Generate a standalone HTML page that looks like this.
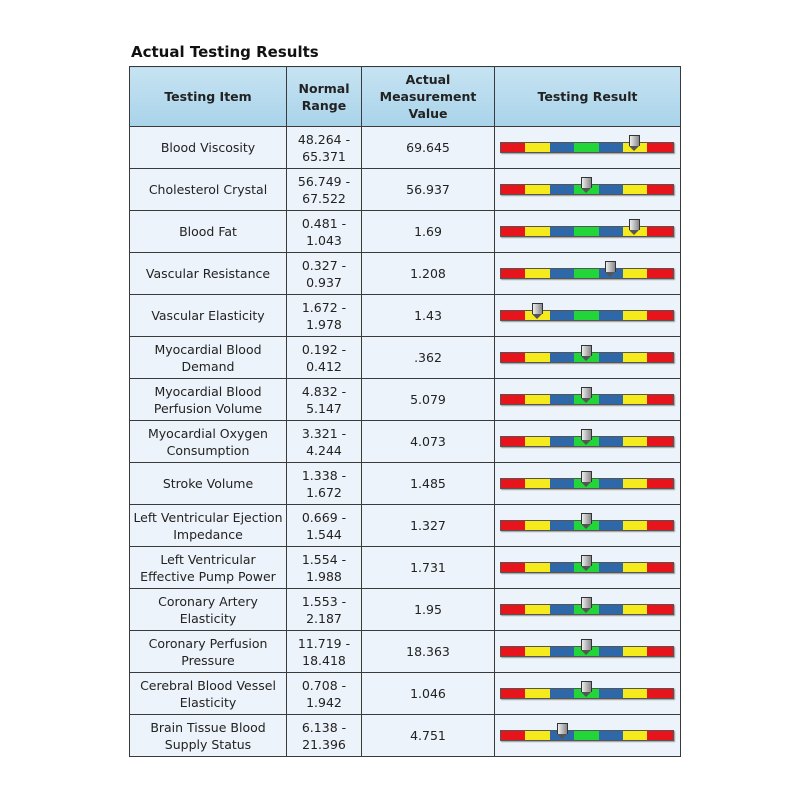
<!DOCTYPE html>
<html><head><style>
body{margin:0;background:#fff;width:800px;height:800px;position:relative;font-family:"DejaVu Sans","Liberation Sans",sans-serif;}
.t{position:absolute;left:131px;top:43px;font-weight:bold;font-size:15px;color:#111;}
table{position:absolute;left:129px;top:66px;border-collapse:collapse;}
td,th{border:1px solid #3a3a3a;text-align:center;font-size:12.5px;color:#222;padding:0;line-height:17px;}
th{height:59px;background:linear-gradient(#c6e3f2,#a9d3ea);font-weight:bold;font-size:12.5px;}
td{height:41px;background:#edf3fa;}
.bar{position:relative;width:172px;height:9px;margin-left:5px;border:1px solid #555;display:flex;box-shadow:1px 1px 1px #999;}
.bar i{display:block;height:9px}
.m{position:absolute;top:-8px;width:9px;height:10px;background:linear-gradient(90deg,#eee,#888);border:1px solid #333;border-bottom:none;}
.m:after{content:"";position:absolute;left:-1px;top:10px;border-left:5.5px solid transparent;border-right:5.5px solid transparent;border-top:5px solid #555;}
</style></head><body>
<div class="t">Actual Testing Results</div>
<table>
<tr><th style="width:156px">Testing Item</th><th style="width:74px">Normal<br>Range</th><th style="width:132px">Actual<br>Measurement<br>Value</th><th style="width:185px">Testing Result</th></tr>
<tbody id="b"></tbody>
</table>
<script>
var d=[["Blood Viscosity","48.264 -<br>65.371","69.645",634],
["Cholesterol Crystal","56.749 -<br>67.522","56.937",586],
["Blood Fat","0.481 -<br>1.043","1.69",634],
["Vascular Resistance","0.327 -<br>0.937","1.208",610],
["Vascular Elasticity","1.672 -<br>1.978","1.43",537],
["Myocardial Blood<br>Demand","0.192 -<br>0.412",".362",586],
["Myocardial Blood<br>Perfusion Volume","4.832 -<br>5.147","5.079",586],
["Myocardial Oxygen<br>Consumption","3.321 -<br>4.244","4.073",586],
["Stroke Volume","1.338 -<br>1.672","1.485",586],
["Left Ventricular Ejection<br>Impedance","0.669 -<br>1.544","1.327",586],
["Left Ventricular<br>Effective Pump Power","1.554 -<br>1.988","1.731",586],
["Coronary Artery<br>Elasticity","1.553 -<br>2.187","1.95",586],
["Coronary Perfusion<br>Pressure","11.719 -<br>18.418","18.363",586],
["Cerebral Blood Vessel<br>Elasticity","0.708 -<br>1.942","1.046",586],
["Brain Tissue Blood<br>Supply Status","6.138 -<br>21.396","4.751",562]];
var seg=[["#e8141b",24],["#f4ea1c",25],["#2f68a8",24],["#22d63a",25],["#2f68a8",24],["#f4ea1c",24],["#e8141b",26]];
var h="";
d.forEach(function(r){
var b="";seg.forEach(function(s){b+='<i style="background:'+s[0]+';width:'+s[1]+'px"></i>';});
h+='<tr><td>'+r[0]+'</td><td>'+r[1]+'</td><td>'+r[2]+'</td><td><div class="bar">'+b+'<div class="m" style="left:'+(r[3]-506)+'px"></div></div></td></tr>';
});
document.getElementById("b").innerHTML=h;
</script>
</body></html>
